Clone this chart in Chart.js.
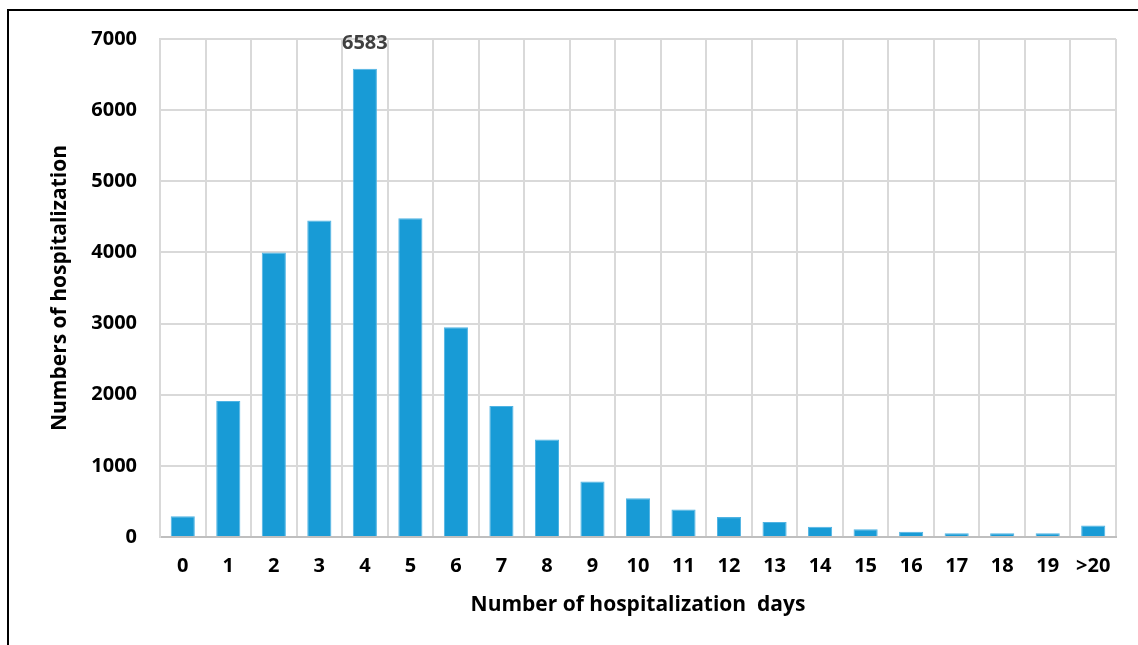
<!DOCTYPE html>
<html>
<head>
<meta charset="utf-8">
<title>Hospitalization days</title>
<script src="https://cdn.jsdelivr.net/npm/chart.js@4/dist/chart.umd.min.js"></script>
<style>
  body { margin: 0; background: #fff; }
  #wrap { width: 1138px; height: 645px; }
</style>
</head>
<body>
<div id="wrap"><canvas id="daysChart" width="1138" height="645"></canvas></div>
<script>
// categories (hospitalization days) and counts
const days = ['0', '1', '2', '3', '4', '5', '6', '7', '8', '9', '10',
              '11', '12', '13', '14', '15', '16', '17', '18', '19', '>20'];
const counts = [290, 1910, 4000, 4450, 6583, 4480, 2950, 1840, 1370, 780, 545,
                385, 280, 210, 145, 108, 75, 52, 52, 52, 160];
const yTicks = [0, 1000, 2000, 3000, 4000, 5000, 6000, 7000];

const FONT = '"Open Sans", sans-serif';
const GRID = '#d9d9d9';

// black frame on the left and top edges of the figure
const framePlugin = {
  id: 'frame',
  beforeDraw(c) {
    const ctx = c.ctx;
    ctx.save();
    ctx.fillStyle = '#fff';
    ctx.fillRect(0, 0, c.width, c.height);
    ctx.strokeStyle = '#000';
    ctx.lineWidth = 2;
    ctx.beginPath();
    ctx.moveTo(8, c.height);
    ctx.lineTo(8, 10);
    ctx.lineTo(c.width, 10);
    ctx.stroke();
    ctx.restore();
  }
};

// value label only on the highest bar
const peakLabel = {
  id: 'peakLabel',
  afterDatasetsDraw(c) {
    const vals = c.data.datasets[0].data;
    const i = vals.indexOf(Math.max(...vals));
    const bar = c.getDatasetMeta(0).data[i];
    const ctx = c.ctx;
    ctx.save();
    ctx.font = 'bold 20px ' + FONT;
    ctx.fillStyle = '#404040';
    ctx.textAlign = 'center';
    ctx.textBaseline = 'middle';
    ctx.fillText(String(vals[i]), bar.x, bar.y - 25);
    ctx.restore();
  }
};

new Chart(document.getElementById('daysChart'), {
  type: 'bar',
  data: {
    labels: days,
    datasets: [{
      data: counts,
      backgroundColor: '#189bd6',
      borderColor: '#4fb3e3',
      borderWidth: 1,
      barPercentage: 0.53,
      categoryPercentage: 1
    }]
  },
  options: {
    responsive: false,
    animation: false,
    layout: { padding: { left: 0, right: 22, top: 39, bottom: 0 } },
    plugins: { legend: { display: false }, tooltip: { enabled: false } },
    scales: {
      x: {
        grid: { color: GRID, lineWidth: 2, drawTicks: false, offset: true },
        border: { color: '#bfbfbf', width: 2 },
        ticks: { color: '#000', padding: 17, font: { family: FONT, size: 20, weight: 'bold' } },
        title: {
          display: true,
          text: 'Number of hospitalization  days',
          color: '#000',
          font: { family: FONT, size: 21, weight: 'bold' },
          padding: { top: 0, bottom: 27 }
        },
        afterFit(s) { s.height = 108; }
      },
      y: {
        min: 0,
        max: 7000,
        afterBuildTicks(s) { s.ticks = yTicks.map(v => ({ value: v })); },
        grid: { color: GRID, lineWidth: 2, drawTicks: false },
        border: { color: GRID, width: 2 },
        ticks: {
          color: '#000',
          padding: 23,
          font: { family: FONT, size: 20, weight: 'bold' },
          callback: v => String(v)
        },
        title: {
          display: true,
          text: 'Numbers of hospitalization',
          color: '#000',
          font: { family: FONT, size: 21, weight: 'bold' },
          padding: { top: 47, bottom: 0 }
        },
        afterFit(s) { s.width = 160; }
      }
    }
  },
  plugins: [framePlugin, peakLabel]
});
</script>
</body>
</html>
